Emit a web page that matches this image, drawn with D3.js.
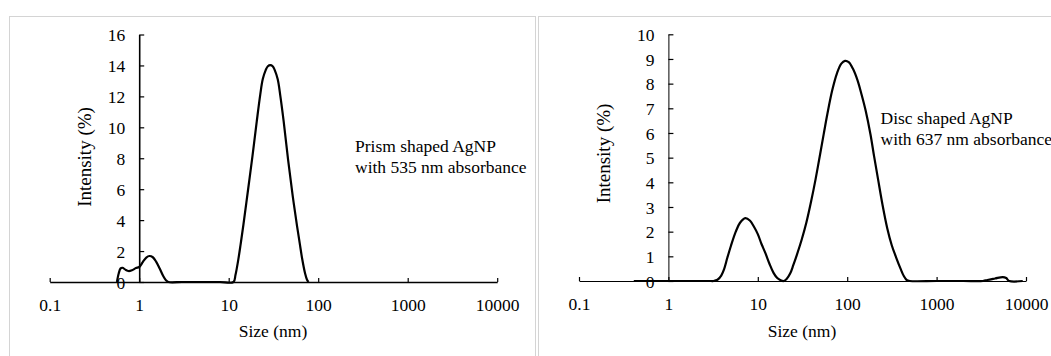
<!DOCTYPE html>
<html>
<head>
<meta charset="utf-8">
<script src="https://cdn.jsdelivr.net/npm/d3@7"></script>
<style>
  body { margin: 0; background: #fff; }
  svg text { font-family: 'Liberation Serif' !important; }
</style>
</head>
<body>
<div id="chart"></div>
<script>
// tick values shared by both panels
const sizeTicks = [0.1, 1, 10, 100, 1000, 10000];
const prismYTicks = [0, 2, 4, 6, 8, 10, 12, 14, 16];
const discYTicks = [0, 1, 2, 3, 4, 5, 6, 7, 8, 9, 10];

// prism shaped AgNP, size (nm) vs intensity (%)
const prismSize = [0.564, 0.59, 0.62, 0.65, 0.70, 0.76, 0.83, 0.92, 1.0, 1.1,
  1.2, 1.3, 1.42, 1.55, 1.7, 1.85, 2.0, 2.12, 3, 5,
  8, 11.3, 11.9, 12.8, 13.6, 14.6, 16.4, 18.4, 20.6, 22.5,
  24, 25.9, 27.4, 29.1, 31, 32.7, 35.3, 37.6, 41.1, 46.1,
  51.8, 58.1, 62.2, 66.2, 71.4, 75, 78];
const prismIntensity = [0, 0.55, 0.88, 0.92, 0.8, 0.71, 0.76, 0.9, 0.97, 1.3,
  1.58, 1.68, 1.6, 1.3, 0.85, 0.4, 0.1, 0, 0, 0,
  0, 0, 0.45, 1.45, 2.45, 3.7, 5.9, 8.1, 10.4, 12.1,
  13.1, 13.7, 13.95, 14.02, 13.95, 13.7, 13.1, 12.1, 10.4, 7.9,
  5.6, 3.6, 2.5, 1.5, 0.55, 0.15, 0];

// disc shaped AgNP
const discSize = [0.41, 1, 2, 3, 3.2, 3.54, 3.9, 4.2, 4.57, 5.0,
  5.67, 6.3, 7.25, 8.2, 9.0, 10.0, 11.0, 12.1, 13.5, 15,
  16.5, 18, 19.5, 21, 23, 25, 27.3, 31, 35, 39.5,
  44.2, 50, 55, 60, 68, 77, 86, 94.5, 104, 116,
  130, 145, 161, 182, 200, 222, 248, 280, 315, 353,
  395, 430, 466, 500, 1000, 2000, 3300, 3700, 4500, 5500,
  6000, 6500, 9200];
const discIntensity = [0, 0, 0, 0, 0, 0.05, 0.22, 0.48, 0.95, 1.42,
  2, 2.35, 2.55, 2.44, 2.22, 1.9, 1.5, 1.15, 0.7, 0.33,
  0.12, 0.03, 0, 0.08, 0.3, 0.65, 1.05, 1.68, 2.38, 3.23,
  4.11, 5.18, 6.02, 6.77, 7.73, 8.43, 8.81, 8.92, 8.87, 8.6,
  8.15, 7.55, 6.9, 5.95, 5.05, 4.1, 3.1, 2.15, 1.45, 0.95,
  0.5, 0.2, 0.03, 0, 0, 0, 0, 0.04, 0.1, 0.16,
  0.12, 0, 0];

const svg = d3.select("#chart")
  .append("svg")
  .attr("width", 1051)
  .attr("height", 356)
  .attr("font-family", "Liberation Serif");

function drawPanel(p) {
  // light grey frame round each figure
  svg.append("rect")
    .attr("x", p.frame[0] + 0.5)
    .attr("y", p.frame[1] + 0.5)
    .attr("width", p.frame[2])
    .attr("height", 400)
    .attr("fill", "none")
    .attr("stroke", "#d4d4d4")
    .attr("stroke-width", 1);

  const x = d3.scaleLog().domain([0.1, 10000]).range(p.xRange);
  const y = d3.scaleLinear().domain([0, p.yMax]).range(p.yRange);

  // x axis sits on y = 0, ticks pointing up
  const gx = svg.append("g")
    .attr("transform", `translate(0,${y(0)})`)
    .call(d3.axisBottom(x)
      .tickValues(sizeTicks)
      .tickFormat(d => String(d))
      .tickSizeInner(-4)
      .tickSizeOuter(0)
      .tickPadding(17));

  // y axis crosses at size = 1, ticks pointing right
  const gy = svg.append("g")
    .attr("transform", `translate(${x(1)},0)`)
    .call(d3.axisLeft(y)
      .tickValues(p.yTicks)
      .tickSizeInner(-5)
      .tickSizeOuter(0)
      .tickPadding(14));

  [gx, gy].forEach(g => {
    g.attr("font-family", "Liberation Serif").attr("font-size", 17.5);
    g.select(".domain").attr("stroke-width", p.axisWidth);
    g.selectAll(".tick line").attr("stroke-width", 1.2);
    g.selectAll(".tick text")
      .attr("font-family", "Liberation Serif")
      .attr("fill", "#000");
  });
  gy.selectAll(".tick text").attr("dy", "0.36em");

  // size distribution curve
  const line = d3.line()
    .x(d => x(d[0]))
    .y(d => y(d[1]))
    .curve(d3.curveCatmullRom.alpha(0.5));

  svg.append("path")
    .datum(d3.zip(p.sizes, p.values))
    .attr("fill", "none")
    .attr("stroke", "#000")
    .attr("stroke-width", 2.2)
    .attr("stroke-linejoin", "round")
    .attr("d", line);

  // axis titles
  svg.append("text")
    .attr("x", p.xTitle[0])
    .attr("y", p.xTitle[1])
    .attr("text-anchor", "middle")
    .attr("font-family", "Liberation Serif")
    .attr("font-size", 17.5)
    .text("Size (nm)");

  svg.append("text")
    .attr("transform", `translate(${p.yTitle[0]},${p.yTitle[1]}) rotate(-90)`)
    .attr("text-anchor", "middle")
    .attr("dy", "0.35em")
    .attr("font-family", "Liberation Serif")
    .attr("font-size", 19)
    .text("Intensity (%)");

  // note beside the curve
  p.noteLines.forEach((t, i) => {
    svg.append("text")
      .attr("x", p.note[0])
      .attr("y", p.note[1] + i * 21.5)
      .attr("font-family", "Liberation Serif")
      .attr("font-size", 17.5)
      .text(t);
  });
}

drawPanel({
  frame: [9, 16, 526],
  xRange: [49.7, 497.2],
  yRange: [282, 34.5],
  yMax: 16,
  yTicks: prismYTicks,
  sizes: prismSize,
  values: prismIntensity,
  axisWidth: 1.6,
  xTitle: [273, 337],
  yTitle: [84, 157],
  note: [355, 151.5],
  noteLines: ["Prism shaped AgNP", "with 535 nm absorbance"]
});

drawPanel({
  frame: [538, 16, 600],
  xRange: [579, 1026],
  yRange: [281, 34.3],
  yMax: 10,
  yTicks: discYTicks,
  sizes: discSize,
  values: discIntensity,
  axisWidth: 1,
  xTitle: [802, 337],
  yTitle: [603, 153.5],
  note: [880.5, 123.5],
  noteLines: ["Disc shaped AgNP", "with 637 nm absorbance"]
});
</script>
</body>
</html>
